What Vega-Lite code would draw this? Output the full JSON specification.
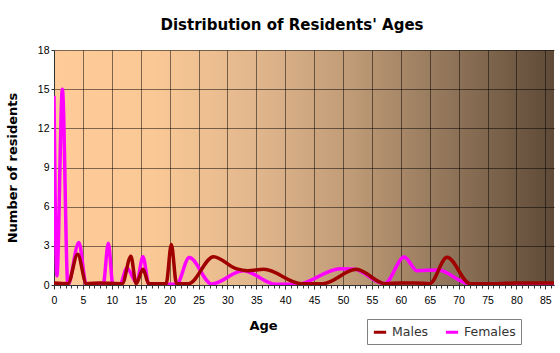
{
  "$schema": "https://vega.github.io/schema/vega-lite/v6.json",
  "width": 500,
  "height": 235,
  "autosize": {"type": "none"},
  "padding": {"left": 54, "top": 50, "right": 6, "bottom": 68},
  "background": "white",
  "title": {"text": "Distribution of Residents' Ages", "font": "DejaVu Sans", "fontSize": 15, "fontWeight": "bold", "color": "#000000", "dx": -12, "offset": 12},
  "config": {
    "view": {
      "stroke": null,
      "fill": {"gradient": "linear", "x1": 0, "x2": 1, "y1": 0, "y2": 0,
        "stops": [
          {"offset": 0, "color": "#FFCC99"},
          {"offset": 0.2, "color": "#FAC895"},
          {"offset": 0.4, "color": "#E2B78D"},
          {"offset": 0.6, "color": "#BE9A76"},
          {"offset": 0.8, "color": "#8F7358"},
          {"offset": 1, "color": "#5E4A37"}
        ]}
    },
    "axis": {"labelFont": "Liberation Sans", "labelFontSize": 10.5, "labelColor": "#000000", "titleFont": "DejaVu Sans", "titleFontSize": 13, "titleFontWeight": "bold", "titleColor": "#000000", "domainColor": "#333333", "tickColor": "#333333"}
  },
  "datasets": {
    "females": [
      {"age": 0, "count": 14.5}, {"age": 0.5, "count": 0.7}, {"age": 1.45, "count": 15}, {"age": 2.4, "count": 0},
      {"age": 4.3, "count": 3.25}, {"age": 5.6, "count": 0}, {"age": 8.5, "count": 0}, {"age": 9.4, "count": 3.2},
      {"age": 10.2, "count": 0}, {"age": 11.4, "count": 0}, {"age": 12.6, "count": 1.3}, {"age": 14.3, "count": 0.2},
      {"age": 15.4, "count": 2.17}, {"age": 16.4, "count": 0.05}, {"age": 21.2, "count": 0.05}, {"age": 23.4, "count": 2.1},
      {"age": 27.3, "count": 0.08}, {"age": 32.7, "count": 1.1}, {"age": 38.4, "count": 0.05}, {"age": 42, "count": 0.05},
      {"age": 49.5, "count": 1.25}, {"age": 52, "count": 1.2}, {"age": 57.2, "count": 0.1}, {"age": 60.6, "count": 2.15},
      {"age": 62.8, "count": 1.1}, {"age": 66.5, "count": 1.15}, {"age": 71.8, "count": 0.1}, {"age": 86.5, "count": 0.1}
    ],
    "males": [
      {"age": 0, "count": 0.15}, {"age": 2.4, "count": 0.1}, {"age": 4.1, "count": 2.35}, {"age": 5.6, "count": 0.1},
      {"age": 8, "count": 0.15}, {"age": 11.8, "count": 0.1}, {"age": 13.3, "count": 2.2}, {"age": 14.2, "count": 0.1},
      {"age": 15.4, "count": 1.2}, {"age": 16.4, "count": 0.1}, {"age": 19.4, "count": 0.1}, {"age": 20.3, "count": 3.1},
      {"age": 21.2, "count": 0.1}, {"age": 23.3, "count": 0.1}, {"age": 27.6, "count": 2.17}, {"age": 31.5, "count": 1.25},
      {"age": 33.5, "count": 1.1}, {"age": 36.3, "count": 1.2}, {"age": 42.8, "count": 0.1}, {"age": 46.5, "count": 0.1},
      {"age": 52.3, "count": 1.2}, {"age": 57.3, "count": 0.1}, {"age": 60, "count": 0.15}, {"age": 62.5, "count": 0.15},
      {"age": 65, "count": 0.1}, {"age": 68, "count": 2.12}, {"age": 72, "count": 0.1}, {"age": 76, "count": 0.1},
      {"age": 80, "count": 0.15}, {"age": 86.5, "count": 0.15}
    ]
  },
  "resolve": {"axis": {"x": "independent"}},
  "encoding": {
    "y": {
      "field": "count", "type": "quantitative",
      "scale": {"domain": [0, 18], "nice": false},
      "axis": {
        "title": "Number of residents",
        "values": [0, 3, 6, 9, 12, 15, 18],
        "grid": true,
        "gridColor": "#000000",
        "gridOpacity": 0.5,
        "tickSize": 3,
        "labelPadding": 2,
        "titleX": -42,
        "titleY": 117.5,
        "titleAngle": 270,
        "titleAlign": "center",
        "titleBaseline": "middle"
      }
    },
    "color": {
      "field": "sex", "type": "nominal",
      "scale": {"domain": ["Males", "Females"], "range": ["#A00000", "#FF00FF"]},
      "legend": {
        "orient": "none", "legendX": 313, "legendY": 269, "direction": "horizontal", "title": null,
        "strokeColor": "#808080", "padding": 5, "symbolType": "stroke", "symbolSize": 150, "symbolStrokeWidth": 3,
        "labelFont": "DejaVu Sans", "labelFontSize": 12.5, "labelColor": "#333333", "columnPadding": 10, "labelOffset": 4
      }
    }
  },
  "layer": [
    {
      "data": {"name": "females"},
      "transform": [{"calculate": "'Females'", "as": "sex"}],
      "mark": {"type": "line", "interpolate": "monotone", "strokeWidth": 3.5, "clip": true},
      "encoding": {
        "x": {
          "field": "age", "type": "quantitative",
          "scale": {"domain": [0, 86.5], "nice": false, "zero": false},
          "axis": {
            "orient": "bottom",
            "title": "Age",
            "values": [0, 5, 10, 15, 20, 25, 30, 35, 40, 45, 50, 55, 60, 65, 70, 75, 80, 85],
            "labelOverlap": false,
            "labelFlush": false,
            "labelPadding": 6,
            "tickSize": 4,
            "grid": true,
            "gridColor": "#000000",
            "gridOpacity": 0.5,
            "titleX": 209,
            "titleY": 34,
            "titleAlign": "center",
            "titleBaseline": "top"
          }
        }
      }
    },
    {
      "data": {"name": "males"},
      "transform": [{"calculate": "'Males'", "as": "sex"}],
      "mark": {"type": "line", "interpolate": "monotone", "strokeWidth": 3.5, "clip": true},
      "encoding": {
        "x": {
          "field": "age", "type": "quantitative",
          "scale": {"domain": [0, 86.5], "nice": false, "zero": false},
          "axis": {
            "orient": "bottom",
            "title": null,
            "values": [0,1,2,3,4,5,6,7,8,9,10,11,12,13,14,15,16,17,18,19,20,21,22,23,24,25,26,27,28,29,30,31,32,33,34,35,36,37,38,39,40,41,42,43,44,45,46,47,48,49,50,51,52,53,54,55,56,57,58,59,60,61,62,63,64,65,66,67,68,69,70,71,72,73,74,75,76,77,78,79,80,81,82,83,84,85,86],
            "labels": false,
            "grid": false,
            "domain": false,
            "tickSize": 3
          }
        }
      }
    }
  ]
}
